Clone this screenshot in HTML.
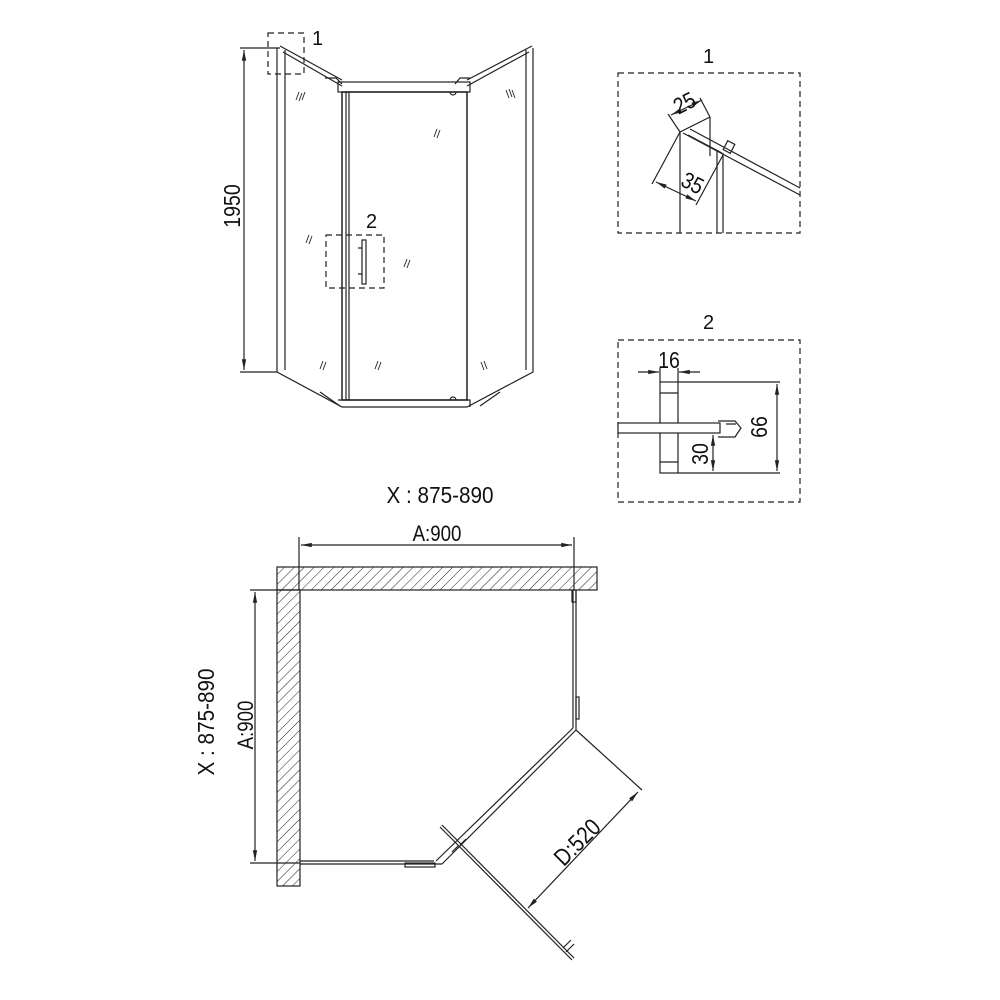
<!DOCTYPE html>
<html><head><meta charset="utf-8"><style>
html,body{margin:0;padding:0;background:#fff}
svg{display:block}
text{font-family:"Liberation Sans",sans-serif;fill:#111}
</style></head><body>
<svg width="1000" height="1000" viewBox="0 0 1000 1000" xmlns="http://www.w3.org/2000/svg">
<defs>
<pattern id="h" width="7" height="7" patternUnits="userSpaceOnUse" patternTransform="rotate(45)">
<rect width="7" height="7" fill="#fff"/><line x1="0" y1="0" x2="0" y2="7" stroke="#222" stroke-width="1"/>
</pattern>
<marker id="a" viewBox="0 0 10 10" refX="10" refY="5" markerWidth="9" markerHeight="9" orient="auto-start-reverse"><path d="M0,3 L10,5 L0,7 z" fill="#222"/></marker>
</defs>
<g stroke="#222" fill="none" stroke-width="1.2">
<line x1="240" y1="48" x2="280" y2="48"/><line x1="240" y1="372" x2="277" y2="372"/>
<line x1="244" y1="50" x2="244" y2="370" marker-start="url(#a)" marker-end="url(#a)"/>
<path d="M277,48 L277,372 L342,407 L467,407 L533,372 L533,48"/>
<line x1="285" y1="50" x2="285" y2="370"/><line x1="526" y1="50" x2="526" y2="370"/>
<path d="M280,46 L342,80 M283,52 L342,86"/>
<path d="M532,46 L467,80 M529,52 L467,86"/>
<path d="M325,78 L336,78 L342,84 M455,84 L460,78 L470,78"/>
<rect x="338" y="82" width="132" height="10"/>
<rect x="342" y="92" width="125" height="308" stroke-width="1.5"/>
<rect x="346" y="92" width="3" height="308"/>
<path d="M338,400 L470,400 L470,407"/>
<path d="M320,392 L340,406 M480,406 L500,392"/>
<path d="M450,92 a3,3 0 0 0 6,0 M450,400 a3,3 0 0 1 6,0"/>
<rect x="362" y="240" width="4" height="44"/>
<path d="M362,248 l-4,0 M362,274 l-4,0"/>
<g stroke-width="0.9">
<path d="M296,100 l3,-8 M299,101 l3,-8 M302,100 l3,-8"/>
<path d="M434,137 l3,-8 M437,138 l3,-8"/>
<path d="M506,90 l3,8 M509,89 l3,8 M512,90 l3,8"/>
<path d="M306,243 l3,-8 M309,244 l3,-8"/>
<path d="M404,267 l3,-8 M407,268 l3,-8"/>
<path d="M320,369 l3,-8 M323,370 l3,-8"/>
<path d="M375,369 l3,-8 M378,370 l3,-8"/>
<path d="M481,362 l3,8 M484,361 l3,8"/>
</g>
<g stroke-dasharray="6,4"><rect x="268" y="33" width="36" height="41"/><rect x="326" y="235" width="58" height="53"/></g>
<g stroke-dasharray="6,4"><rect x="618" y="73" width="182" height="160"/><rect x="618" y="340" width="182" height="162"/></g>
<line x1="680" y1="132" x2="680" y2="233"/>
<line x1="710" y1="117" x2="710" y2="156"/>
<line x1="717" y1="150" x2="717" y2="233"/><line x1="723" y1="153" x2="723" y2="233"/>
<path d="M680,132 L710,117 M683,133 L800,195 M690,129 L800,188 M688,135 L722,153"/>
<rect x="725" y="142" width="8" height="10" transform="rotate(27 729 147)"/>
<path d="M680,132 L668,114 M710,117 L700,98"/>
<line x1="671" y1="115" x2="702" y2="100" marker-start="url(#a)" marker-end="url(#a)"/>
<path d="M680,132 L652,184 M723,155 L696,205"/>
<line x1="656" y1="182" x2="696" y2="201" marker-start="url(#a)" marker-end="url(#a)"/>
<rect x="660" y="382" width="18" height="91"/>
<path d="M660,393 L678,393 M660,462 L678,462"/>
<rect x="618" y="423" width="102" height="10" fill="#fff"/>
<path d="M718,421 L735,421 L741,428 L735,437 L718,437 M726,424 L736,424"/>
<path d="M678,382 L780,382 M678,473 L780,473"/>
<line x1="777" y1="384" x2="777" y2="471" marker-start="url(#a)" marker-end="url(#a)"/>
<line x1="713" y1="435" x2="713" y2="471" marker-start="url(#a)" marker-end="url(#a)"/>
<path d="M660,368 L660,382 M678,368 L678,382"/>
<line x1="638" y1="372" x2="659" y2="372" marker-end="url(#a)"/>
<line x1="700" y1="372" x2="679" y2="372" marker-end="url(#a)"/>
<rect x="277" y="567" width="320" height="23" fill="url(#h)"/>
<rect x="277" y="590" width="23" height="296" fill="url(#h)"/>
<path d="M299,537 L299,590 M574,537 L574,590"/>
<line x1="301" y1="545" x2="572" y2="545" marker-start="url(#a)" marker-end="url(#a)"/>
<path d="M250,590 L300,590 M250,863 L300,863"/>
<line x1="255" y1="592" x2="255" y2="861" marker-start="url(#a)" marker-end="url(#a)"/>
<path d="M573,590 L573,728 M576,590 L576,730"/>
<rect x="572" y="590" width="4" height="12"/><rect x="576" y="697" width="3" height="22"/>
<path d="M300,861 L434,861 M300,864 L434,864 L442,864"/>
<rect x="405" y="863" width="30" height="4"/>
<path d="M576,730 L442,864 M573,728 L436,861"/>
<path d="M440,827 L572,960 M442,825 L574,958"/>
<path d="M563,948 l8,-8 M566,952 l8,-8"/>
<path d="M452,852 l6,-6 M460,845 l6,-6"/>
<line x1="576" y1="730" x2="642" y2="790"/>
<line x1="638" y1="792" x2="528" y2="908" marker-start="url(#a)" marker-end="url(#a)"/>
</g>
<g font-size="20">
<text x="312" y="45">1</text>
<text x="366" y="228">2</text>
<text x="703" y="63">1</text>
<text x="703" y="329">2</text>
<text transform="translate(240,206) rotate(-90) scale(0.85,1)" text-anchor="middle" font-size="23">1950</text>
<text transform="translate(688,110) rotate(-27) scale(0.85,1)" text-anchor="middle" font-size="23">25</text>
<text transform="translate(689,190) rotate(27) scale(0.85,1)" text-anchor="middle" font-size="23">35</text>
<text transform="translate(669,368) scale(0.85,1)" text-anchor="middle" font-size="23">16</text>
<text transform="translate(767,427) rotate(-90) scale(0.85,1)" text-anchor="middle" font-size="23">66</text>
<text transform="translate(708,454) rotate(-90) scale(0.85,1)" text-anchor="middle" font-size="23">30</text>
<text transform="translate(440,503) scale(0.9,1)" text-anchor="middle" font-size="23">X : 875-890</text>
<text transform="translate(437,541) scale(0.85,1)" text-anchor="middle" font-size="22">A:900</text>
<text transform="translate(253,725) rotate(-90) scale(0.85,1)" text-anchor="middle" font-size="22">A:900</text>
<text transform="translate(214,722) rotate(-90) scale(0.9,1)" text-anchor="middle" font-size="23">X : 875-890</text>
<text transform="translate(583,848) rotate(-45) scale(0.85,1)" text-anchor="middle" font-size="24">D:520</text>
</g>
</svg>
</body></html>
